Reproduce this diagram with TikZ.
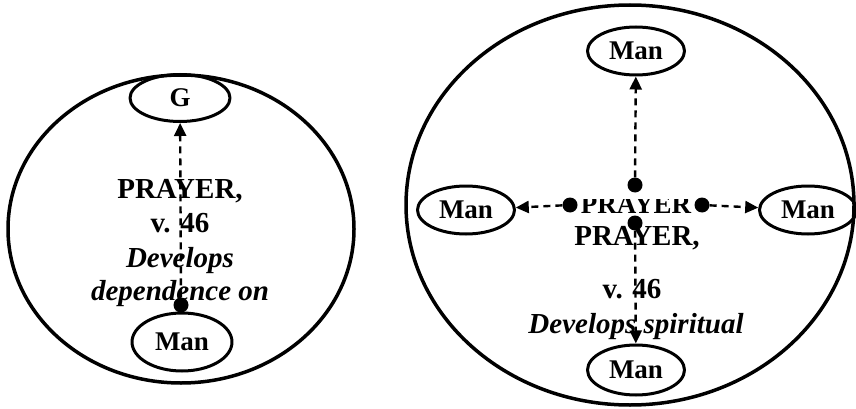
\documentclass[tikz,border=0pt]{standalone}
\usepackage{fontspec}
\setmainfont{Liberation Serif}
\usetikzlibrary{shapes.geometric,arrows.meta}
\begin{document}
\begin{tikzpicture}[x=1pt,y=-1pt,>={Triangle[length=13pt,width=12pt]},line join=round]
	\tikzset{man/.style={draw,ellipse,line width=3pt,minimum width=97pt,minimum height=48pt,inner sep=0pt,font=\fontsize{27}{28}\selectfont\bfseries},
		dot/.style={circle,fill,inner sep=0pt,minimum size=15pt},
		ray/.style={->,line width=2.4pt,dash pattern=on 7pt off 5pt},
		txt/.style={anchor=base,inner sep=0pt,font=\fontsize{29}{30}\selectfont\bfseries},
		itx/.style={txt,font=\fontsize{29}{30}\selectfont\bfseries\itshape}}
	\useasboundingbox (0,0) rectangle (856,409);
	% left circle
	\draw[line width=3.5pt] (181,229) ellipse [x radius=173,y radius=154];
	\node[man,minimum width=100pt,minimum height=47pt] (g) at (180,98) {G};
	\node[man,minimum width=100pt,minimum height=58pt] (manA) at (182,342) {Man};
	\path
	(180,198)node[txt]{PRAYER,}
	(180,232)node[txt]{v. 46}
	(180,267)node[itx]{Develops}
	(180,300)node[itx]{dependence on}
	;
	\node[dot] (dA) at (181,305) {};
	\draw[ray] (dA)--(g);
	% right circle
	\draw[line width=3.5pt] (630,205) ellipse [x radius=224,y radius=200];
	\node[man] (manN) at (636,51) {Man};
	\node[man] (manW) at (466,210) {Man};
	\node[man] (manE) at (808,210) {Man};
	\node[man,minimum height=50pt] (manS) at (636,370) {Man};
	\begin{scope}
		\clip (560,199) rectangle (710,216);
		\node[txt,font=\fontsize{27}{28}\selectfont\bfseries] at (636,213) {PRAYER};
	\end{scope}
	\path
	(637,245)node[txt]{PRAYER,}
	(632,298)node[txt]{v. 46}
	(636,333)node[itx]{Develops spiritual}
	;
	\node[dot] (dN) at (635,185) {};
	\node[dot] (dW) at (570,205) {};
	\node[dot] (dE) at (702,205) {};
	\node[dot] (dS) at (635,223) {};
	\draw[ray] (dN)--(manN);
	\draw[ray] (dW)--(manW);
	\draw[ray] (dE)--(manE);
	\draw[ray] (dS)--(manS);
\end{tikzpicture}
\end{document}
